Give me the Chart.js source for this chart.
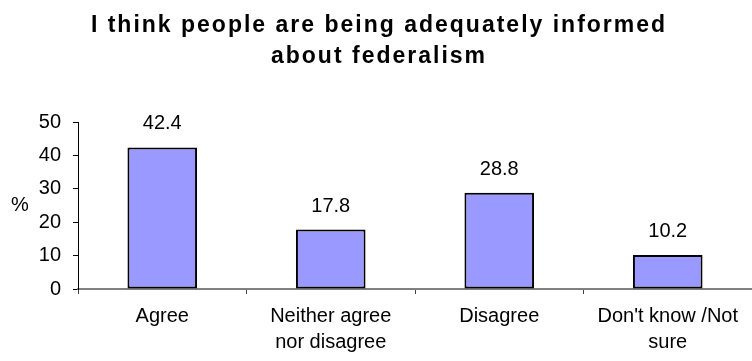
<!DOCTYPE html>
<html>
<head>
<meta charset="utf-8">
<script src="https://cdn.jsdelivr.net/npm/chart.js@4/dist/chart.umd.min.js"></script>
<style>
  html, body { margin: 0; padding: 0; background: #fff; }
  #wrap { width: 752px; height: 361px; position: relative; }
</style>
</head>
<body>
<div id="wrap"><canvas id="c"></canvas></div>
<script>
// Survey responses (percent of respondents)
const titleLines = ['I think people are being adequately informed', 'about federalism'];
const categories = [['Agree'], ['Neither agree', 'nor disagree'], ['Disagree'], ["Don't know /Not", 'sure']];
const percentages = [42.4, 17.8, 28.8, 10.2];
const yTicks = [0, 10, 20, 30, 40, 50];
const yAxisLabel = '%';

const FONT = '"Liberation Sans", Arial, Helvetica, sans-serif';

// Title, axis unit and value labels drawn onto the canvas
const decorations = {
  id: 'decorations',
  afterDraw(chart) {
    const ctx = chart.ctx;
    const area = chart.chartArea;
    ctx.save();

    // Title
    ctx.fillStyle = '#000';
    ctx.font = 'bold 23px ' + FONT;
    if ('letterSpacing' in ctx) ctx.letterSpacing = '2px';
    ctx.textAlign = 'center';
    ctx.textBaseline = 'alphabetic';
    const cx = 379;
    titleLines.forEach((line, i) => ctx.fillText(line, cx, 32 + i * 31));
    if ('letterSpacing' in ctx) ctx.letterSpacing = '0px';

    // Unit label beside the y axis
    ctx.font = '20px ' + FONT;
    ctx.textBaseline = 'middle';
    ctx.fillText(yAxisLabel, 20, (area.top + area.bottom) / 2);

    // Value above each bar
    ctx.textBaseline = 'alphabetic';
    const meta = chart.getDatasetMeta(0);
    meta.data.forEach((bar, i) => {
      ctx.fillText(String(percentages[i]), bar.x, bar.y - 18);
    });
    ctx.restore();
  }
};

new Chart(document.getElementById('c'), {
  type: 'bar',
  data: {
    labels: categories,
    datasets: [{
      data: percentages,
      backgroundColor: '#9999FF',
      borderColor: '#000000',
      borderWidth: 2,
      borderSkipped: false,
      categoryPercentage: 1,
      barPercentage: 0.413
    }]
  },
  options: {
    responsive: true,
    maintainAspectRatio: false,
    animation: false,
    events: [],
    layout: { padding: { top: 122, right: 0, bottom: 0, left: 0 } },
    plugins: {
      legend: { display: false },
      title: { display: false },
      tooltip: { enabled: false }
    },
    scales: {
      x: {
        afterFit(s) { s.height = 72; },
        grid: {
          offset: true,
          drawOnChartArea: false,
          drawTicks: true,
          tickLength: 5,
          color: '#404040',
          lineWidth: 1
        },
        border: { display: true, color: '#808080', width: 2 },
        ticks: {
          color: '#000',
          font: { family: FONT, size: 20, lineHeight: '26px' },
          padding: 9,
          maxRotation: 0,
          autoSkip: false
        }
      },
      y: {
        min: 0,
        max: 50,
        afterFit(s) { s.width = 78; },
        afterBuildTicks(s) { s.ticks = yTicks.map(v => ({ value: v })); },
        grid: {
          drawOnChartArea: false,
          drawTicks: true,
          tickLength: 5,
          color: '#000',
          lineWidth: 1
        },
        border: { display: true, color: '#000', width: 1 },
        ticks: {
          color: '#000',
          font: { family: FONT, size: 20 },
          padding: 12
        }
      }
    }
  },
  plugins: [decorations]
});
</script>
</body>
</html>
